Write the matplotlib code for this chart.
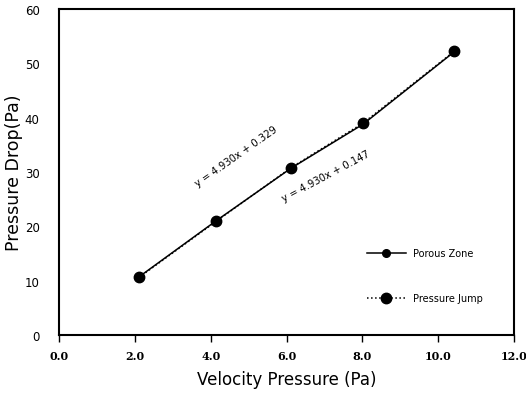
import numpy as np
import matplotlib.pyplot as plt

# data
vel = [2.11, 4.14, 6.12, 8.02, 10.42]
porous = [10.7, 21.0, 30.7, 38.8, 52.1]
jump = [10.6, 20.9, 30.8, 39.0, 52.2]

xticks = [0, 2, 4, 6, 8, 10, 12]
yticks = [0, 10, 20, 30, 40, 50, 60]

fig = plt.figure(figsize=(5.26, 4.02), dpi=100)
ax = fig.add_axes([59/526, 1-336/402, 455/526, 326/402])

ax.plot(vel, porous, 'k-', lw=1.1, marker='o', ms=5.5, label='Porous Zone')
ax.plot(vel, jump, 'k:', lw=1.1, marker='o', ms=7.5, label='Pressure Jump')

ax.set_xlim(0, 12)
ax.set_ylim(0, 60)
ax.set_xticks(xticks)
ax.set_xticklabels([f'{v:.1f}' for v in xticks], family='DejaVu Serif',
                   fontweight='bold', fontsize=8)
ax.set_yticks(yticks)
ax.set_yticklabels([str(v) for v in yticks], fontsize=8.5)
ax.tick_params(axis='x', direction='out', length=5, width=1, pad=6)
ax.tick_params(axis='y', length=0, pad=14)
for s in ax.spines.values():
    s.set_linewidth(1.5)

ax.set_xlabel('Velocity Pressure (Pa)', fontsize=12, labelpad=6)
ax.set_ylabel('Pressure Drop(Pa)', fontsize=12.5, labelpad=1)

ax.text(4.67, 32.9, 'y = 4.930x + 0.329', rotation=35, fontsize=7.2,
        ha='center', va='center')
ax.text(7.04, 29.4, 'y = 4.930x + 0.147', rotation=28, fontsize=7.2,
        ha='center', va='center')

ax.legend(loc='center left', bbox_to_anchor=(0.657, 0.181), frameon=False,
          fontsize=7, handlelength=4, labelspacing=3.6)

fig.savefig('out.png', dpi=100)
